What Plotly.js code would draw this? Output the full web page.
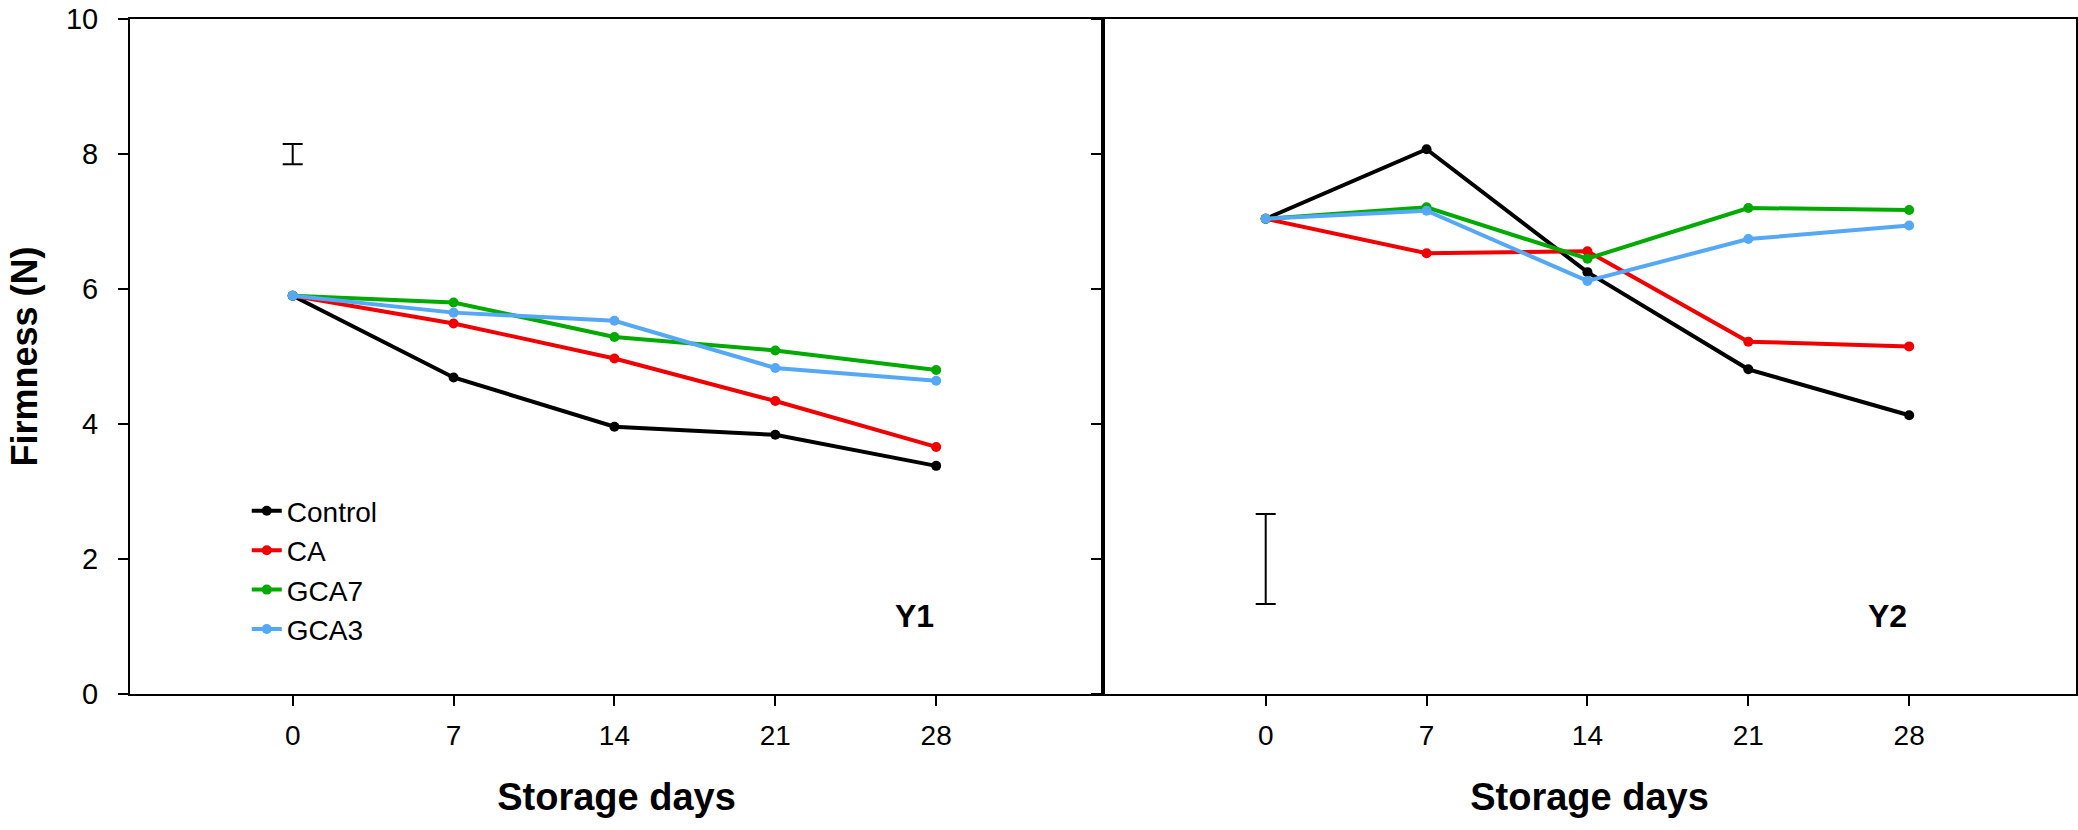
<!DOCTYPE html>
<html>
<head>
<meta charset="utf-8">
<script src="https://cdn.plot.ly/plotly-3.0.1.min.js"></script>
<style>
  html, body { margin: 0; padding: 0; background: #fff; }
  #chart { width: 2078px; height: 830px; }
</style>
</head>
<body>
<div id="chart"></div>
<script>
// storage days on the x axis
var days = [0, 7, 14, 21, 28];
var seriesNames = ['Control', 'CA', 'GCA7', 'GCA3'];
var seriesColors = ['#000000', '#f00000', '#00aa00', '#55a8f5'];

// firmness (N), first year
var y1Control = [5.90, 4.69, 3.96, 3.84, 3.38];
var y1CA      = [5.90, 5.49, 4.97, 4.34, 3.66];
var y1GCA7    = [5.90, 5.80, 5.29, 5.09, 4.80];
var y1GCA3    = [5.90, 5.65, 5.53, 4.83, 4.64];

// firmness (N), second year
var y2Control = [7.04, 8.07, 6.25, 4.81, 4.13];
var y2CA      = [7.04, 6.53, 6.56, 5.22, 5.15];
var y2GCA7    = [7.04, 7.21, 6.45, 7.20, 7.17];
var y2GCA3    = [7.04, 7.16, 6.12, 6.74, 6.94];

// LSD bars drawn at day 0
var lsdX = [0];
var lsdY1 = [8.0], lsdY1Half = [0.15];
var lsdY2 = [2.0], lsdY2Half = [0.665];

var font = '"Liberation Sans", Arial, sans-serif';

function lineTrace(x, y, name, color, xa, ya, showLegend) {
    return {
        x: x,
        y: y,
        name: name,
        legendgroup: name,
        showlegend: showLegend,
        mode: 'lines+markers',
        line: { color: color, width: 4 },
        marker: { color: color, size: 10 },
        xaxis: xa,
        yaxis: ya
    };
}

function lsdTrace(x, y, half, xa, ya) {
    return {
        x: x,
        y: y,
        mode: 'markers',
        marker: { size: 1, color: 'rgba(0,0,0,0)' },
        error_y: { type: 'data', array: half, visible: true, color: '#000', thickness: 2, width: 10 },
        showlegend: false,
        hoverinfo: 'skip',
        xaxis: xa,
        yaxis: ya
    };
}

var year1 = [y1Control, y1CA, y1GCA7, y1GCA3];
var year2 = [y2Control, y2CA, y2GCA7, y2GCA3];
var traces = [];
year1.forEach(function(vals, i) {
    traces.push(lineTrace(days, vals, seriesNames[i], seriesColors[i], 'x', 'y', true));
});
year2.forEach(function(vals, i) {
    traces.push(lineTrace(days, vals, seriesNames[i], seriesColors[i], 'x2', 'y2', false));
});
traces.push(lsdTrace(lsdX, lsdY1, lsdY1Half, 'x', 'y'));
traces.push(lsdTrace(lsdX, lsdY2, lsdY2Half, 'x2', 'y2'));

function xAxis(domain, anchor) {
    return {
        domain: domain,
        anchor: anchor,
        range: [-7.08, 35.26],
        tickvals: days,
        ticktext: days.map(String),
        ticks: 'outside',
        ticklen: 10,
        tickwidth: 2,
        tickcolor: '#000',
        ticklabelstandoff: 5,
        showline: true,
        linewidth: 2,
        linecolor: '#000',
        mirror: true,
        showgrid: false,
        zeroline: false,
        tickfont: { family: font, size: 28, color: '#000' },
        title: {
            text: 'Storage days',
            standoff: 34,
            font: { family: font, size: 38, color: '#000', weight: 'bold' }
        }
    };
}

function yAxis(anchor, labels) {
    return {
        anchor: anchor,
        domain: [0, 1],
        range: [0, 10],
        tickvals: [0, 2, 4, 6, 8, 10],
        ticks: 'outside',
        ticklen: 10,
        tickwidth: 2,
        tickcolor: '#000',
        ticklabelstandoff: 14,
        showticklabels: labels,
        showline: true,
        linewidth: 2,
        linecolor: '#000',
        mirror: true,
        showgrid: false,
        zeroline: false,
        tickfont: { family: font, size: 29, color: '#000' }
    };
}

var layout = {
    width: 2078,
    height: 830,
    margin: { l: 130, r: 2, t: 19, b: 136 },
    paper_bgcolor: '#fff',
    plot_bgcolor: '#fff',
    font: { family: font, color: '#000' },
    xaxis: xAxis([0, 0.5], 'y'),
    yaxis: yAxis('x', true),
    xaxis2: xAxis([0.5, 1], 'y2'),
    yaxis2: yAxis('x2', false),
    showlegend: true,
    legend: {
        x: 0.06,
        y: 0.308,
        xanchor: 'left',
        yanchor: 'top',
        bgcolor: 'rgba(0,0,0,0)',
        borderwidth: 0,
        font: { family: font, size: 28, color: '#000' },
        tracegroupgap: 0
    },
    annotations: [
        { xref: 'x', yref: 'y', x: 28, y: 1.15, xanchor: 'right', yanchor: 'middle', showarrow: false,
          text: '<b>Y1</b>', font: { family: font, size: 32, color: '#000' } },
        { xref: 'x2', yref: 'y2', x: 28, y: 1.15, xanchor: 'right', yanchor: 'middle', showarrow: false,
          text: '<b>Y2</b>', font: { family: font, size: 32, color: '#000' } }
    ]
};

layout.yaxis.title = {
    text: 'Firmness (N)',
    standoff: 17,
    font: { family: font, size: 36, color: '#000', weight: 'bold' }
};

Plotly.newPlot('chart', traces, layout, { displayModeBar: false, staticPlot: true });
</script>
</body>
</html>
